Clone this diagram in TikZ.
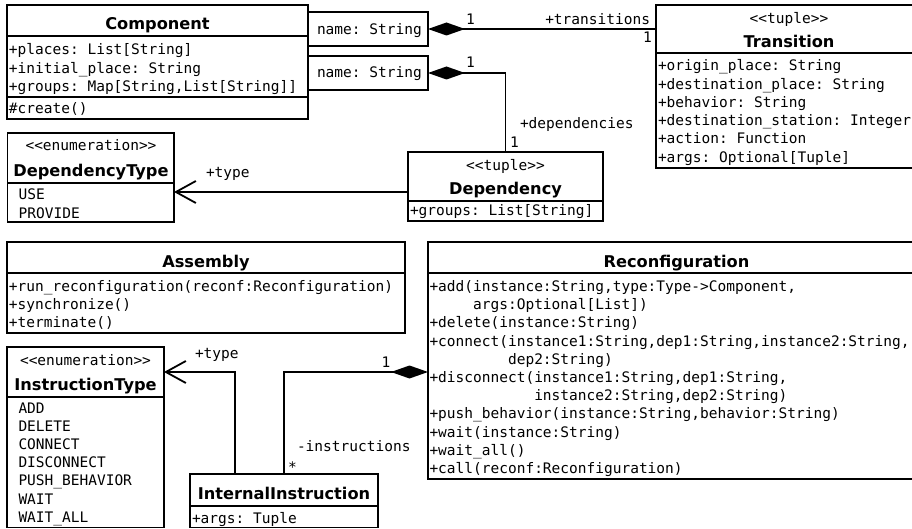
\documentclass[tikz,border=0pt]{standalone}
\usepackage{fontspec}
\newfontfamily\monofam{DejaVu Sans Mono}
\newfontfamily\sansfam{DejaVu Sans}
\usetikzlibrary{arrows.meta}
\newcommand\monof{\monofam\fontsize{14.5}{17}\selectfont\frenchspacing}
\newcommand\titlef{\sansfam\bfseries\fontsize{16.2}{19}\selectfont}
\begin{document}
\begin{tikzpicture}[x=1pt,y=-1pt,
 cell/.style={draw, line width=1.8pt, rectangle, inner sep=0pt, outer sep=0pt, anchor=north west},
 mt/.style={inner sep=0pt, outer sep=0pt, anchor=base west, font=\monof},
 mtc/.style={inner sep=0pt, outer sep=0pt, anchor=base, font=\monof},
 ttl/.style={inner sep=0pt, outer sep=0pt, anchor=base, font=\titlef},
 lbl/.style={inner sep=0pt, outer sep=0pt, anchor=base west, font=\monof},
 conn/.style={line width=1.8pt},
 comp/.style={conn, {Diamond[length=37pt,width=13pt]}-},
 assoc/.style={conn, -{Straight Barb[length=20pt,width=22pt]}},
]
\useasboundingbox (0,0) rectangle (912,529);
\clip (0,0) rectangle (912,529);
\fill[white] (0,0) rectangle (912,529);

% Component
\node[cell, minimum width=301pt, minimum height=31pt] (compT) at (7,5) {};
\node[cell, minimum width=301pt, minimum height=61pt] (compA) at (7,36) {};
\node[cell, minimum width=301pt, minimum height=22pt] (compM) at (7,97) {};
\node[ttl] (compN) at (157.5,30) {Component};
\foreach \entry [count=\i] in {{+places: List[String]},{+initial\_place: String},{+groups: Map[String,List[String]]}}
  \node[mt] (compa\i) at (9,{54.8+18.3*(\i-1)}) {\entry};
\node[mt] (compm1) at (9,113.5) {\#create()};

% qualifiers
\node[cell, minimum width=120pt, minimum height=34pt] (q1) at (308,12) {};
\node[mt] (q1t) at (317,35) {name: String};
\node[cell, minimum width=120pt, minimum height=34pt] (q2) at (308,56) {};
\node[mt] (q2t) at (317,78) {name: String};

% Transition
\node[cell, minimum width=266pt, minimum height=48pt] (trT) at (656,5) {};
\node[cell, minimum width=266pt, minimum height=115pt] (trA) at (656,53) {};
\node[mtc] (trS) at (789,23.5) {<<tuple>>};
\node[ttl] (trN) at (789,48) {Transition};
\foreach \entry [count=\i] in {{+origin\_place: String},{+destination\_place: String},{+behavior: String},{+destination\_station: Integer},{+action: Function},{+args: Optional[Tuple]}}
  \node[mt] (tra\i) at (658,{70.8+18.3*(\i-1)}) {\entry};

% Dependency
\node[cell, minimum width=195pt, minimum height=49pt] (depT) at (408,152) {};
\node[cell, minimum width=195pt, minimum height=20pt] (depA) at (408,201) {};
\node[mtc] (depS) at (505.5,171) {<<tuple>>};
\node[ttl] (depN) at (505.5,194.5) {Dependency};
\node[mt] (depa1) at (410,216) {+groups: List[String]};

% DependencyType
\node[cell, minimum width=166.5pt, minimum height=50pt] (dtT) at (7.5,133) {};
\node[cell, minimum width=166.5pt, minimum height=39pt] (dtL) at (7.5,183) {};
\node[mtc] (dtS) at (91,151) {<<enumeration>>};
\node[ttl] (dtN) at (91,176.5) {DependencyType};
\node[mt] (dtl1) at (18.7,200) {USE};
\node[mt] (dtl2) at (18.7,218.3) {PROVIDE};

% Assembly
\node[cell, minimum width=398pt, minimum height=31pt] (asT) at (7,242) {};
\node[cell, minimum width=398pt, minimum height=60pt] (asM) at (7,273) {};
\node[ttl] (asN) at (206,267) {Assembly};
\foreach \entry [count=\i] in {{+run\_reconfiguration(reconf:Reconfiguration)},{+synchronize()},{+terminate()}}
  \node[mt] (asm\i) at (9,{291+18.3*(\i-1)}) {\entry};

% Reconfiguration
\node[cell, minimum width=497pt, minimum height=31pt] (recT) at (428,242) {};
\node[cell, minimum width=497pt, minimum height=206pt] (recM) at (428,273) {};
\node[ttl] (recN) at (676.5,267) {Reconfiguration};
\foreach \entry [count=\i] in {
  {+add(instance:String,type:Type->Component,},
  {\hphantom{+add(}args:Optional[List])},
  {+delete(instance:String)},
  {+connect(instance1:String,dep1:String,instance2:String,},
  {\hphantom{+connect(}dep2:String)},
  {+disconnect(instance1:String,dep1:String,},
  {\hphantom{+disconnect(}instance2:String,dep2:String)},
  {+push\_behavior(instance:String,behavior:String)},
  {+wait(instance:String)},
  {+wait\_all()},
  {+call(reconf:Reconfiguration)}}
  \node[mt] (recm\i) at (429.5,{291.5+18.2*(\i-1)}) {\entry};

% InstructionType
\node[cell, minimum width=157pt, minimum height=50pt] (itT) at (7,347) {};
\node[cell, minimum width=157pt, minimum height=130.5pt] (itL) at (7,397) {};
\node[mtc] (itS) at (85.5,365) {<<enumeration>>};
\node[ttl] (itN) at (85.5,390.5) {InstructionType};
\foreach \entry [count=\i] in {ADD,DELETE,CONNECT,DISCONNECT,PUSH\_BEHAVIOR,WAIT,WAIT\_ALL}
  \node[mt] (itl\i) at (18.5,{413+18.2*(\i-1)}) {\entry};

% InternalInstruction
\node[cell, minimum width=188pt, minimum height=32pt] (iiT) at (190,474) {};
\node[cell, minimum width=188pt, minimum height=21.5pt] (iiA) at (190,506) {};
\node[ttl] (iiN) at (284,499.5) {InternalInstruction};
\node[mt] (iia1) at (192,523) {+args: Tuple};

% connectors
\coordinate (depIn) at ([yshift=-15.5pt]depT.west);
\coordinate (iiUp) at ([xshift=-49pt]iiT.north);
\draw[comp] (q1.east) -- (q1.east -| trT.west);
\draw[comp] (q2.east) -| (depT.north);
\draw[assoc] (depIn) -- (depIn -| dtL.east);
\draw[assoc] (iiUp) |- (itT.east);
\draw[comp] (itT.east -| recM.west) -| (iiT.north);

% labels
\node[lbl] (l1) at (466,25) {1};
\node[lbl, anchor=base east] (l2) at (650,25) {+transitions};
\node[lbl] (l3) at (643,43) {1};
\node[lbl] (l4) at (466,68) {1};
\node[lbl] (l5) at (520,129) {+dependencies};
\node[lbl] (l6) at (510,148) {1};
\node[lbl] (l7) at (206,178) {+type};
\node[lbl] (l8) at (195,358) {+type};
\node[lbl] (l9) at (381.5,367) {1};
\node[lbl] (l10) at (297,451) {-instructions};
\node[lbl] (l11) at (288,472) {*};
\end{tikzpicture}
\end{document}
